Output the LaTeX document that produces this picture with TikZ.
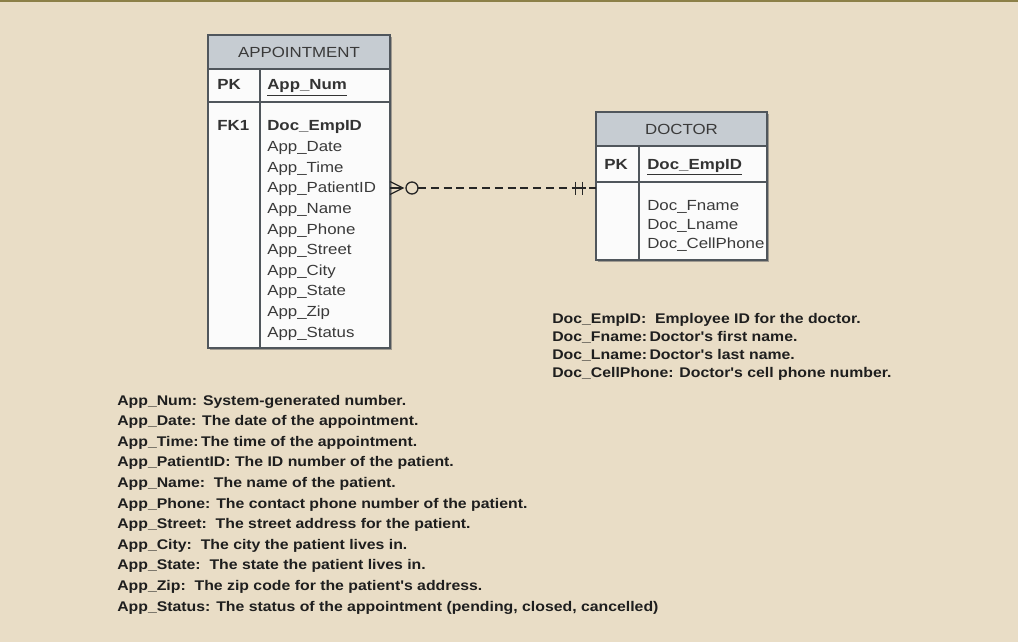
\documentclass[tikz,border=0pt]{standalone}
\usepackage{fontspec}
\setmainfont{Liberation Sans}
\newfontfamily\tabfont[FakeStretch=1.15]{Liberation Sans}
\newfontfamily\descfont[FakeStretch=1.13]{Liberation Sans}
\definecolor{bgc}{HTML}{E9DDC6}
\definecolor{topc}{HTML}{8C8048}
\definecolor{hdrc}{HTML}{C6CCD2}
\definecolor{bordc}{HTML}{50565C}
\definecolor{bodyc}{HTML}{FBFBFB}
\definecolor{tabtext}{HTML}{3A3A3A}
\definecolor{desctext}{HTML}{1E1E1E}
\definecolor{shadc}{HTML}{A09A90}
\tikzset{
  cellbox/.style={draw=bordc, line width=1pt, anchor=north west, inner sep=0pt, outer sep=0pt},
  hdrbox/.style={cellbox, fill=hdrc, font=\tabfont\fontsize{11}{13}\selectfont, text=tabtext},
  bodybox/.style={cellbox, fill=bodyc},
  fieldtxt/.style={anchor=base west, inner sep=0pt, font=\tabfont\fontsize{11}{13}\selectfont, text=tabtext},
  desctxt/.style={anchor=base west, inner sep=0pt, font=\descfont\bfseries\fontsize{10.5}{12}\selectfont, text=desctext},
  conn/.style={draw=black!85, line width=1pt}
}
\begin{document}
\begin{tikzpicture}[x=0.75pt,y=-0.75pt]
\fill[bgc] (0,0) rectangle (1018,642);
\useasboundingbox (0,0) rectangle (1018,642);
\fill[topc] (0,0) rectangle (1018,2);

% ---------- APPOINTMENT ----------
\fill[shadc] (210,37) rectangle (392,350);
\node[hdrbox, minimum width=136.5pt, minimum height=25.5pt] (apph) at (208,35) {APPOINTMENT};
\node[bodybox, minimum width=136.5pt, minimum height=24.75pt] (appk) at (208,69) {};
\node[bodybox, minimum width=136.5pt, minimum height=184.5pt] (appb) at (208,102) {};
\draw[bordc, line width=1pt] (260,69) coordinate (appd1) -- (260,348) coordinate (appd2);
\node[fieldtxt, font=\tabfont\bfseries\fontsize{11}{13}\selectfont, text=black!80] (apppk) at (217,90) {PK};
\node[fieldtxt, font=\tabfont\bfseries\fontsize{11}{13}\selectfont, text=black!80] (appnum) at (267,90) {\underline{App\_Num}};
\node[fieldtxt, font=\tabfont\bfseries\fontsize{11}{13}\selectfont, text=black!80] (appfk) at (217,131) {FK1};
\node[fieldtxt, font=\tabfont\bfseries\fontsize{11}{13}\selectfont, text=black!80] (af0) at (267,131) {Doc\_EmpID};
\foreach \t [count=\i] in {App\_Date,App\_Time,App\_PatientID,App\_Name,App\_Phone,App\_Street,App\_City,App\_State,App\_Zip,App\_Status}
  \node[fieldtxt] (af\i) at (267,131+20.6*\i) {\t};

% ---------- DOCTOR ----------
\fill[shadc] (598,114) rectangle (769,262);
\node[hdrbox, minimum width=128.25pt, minimum height=25.5pt] (doch) at (596,112) {DOCTOR};
\node[bodybox, minimum width=128.25pt, minimum height=27pt] (dock) at (596,146) {};
\node[bodybox, minimum width=128.25pt, minimum height=58.5pt] (docb) at (596,182) {};
\draw[bordc, line width=1pt] (639,146) coordinate (docd1) -- (639,260) coordinate (docd2);
\node[fieldtxt, font=\tabfont\bfseries\fontsize{11}{13}\selectfont, text=black!80] (docpk) at (604,169) {PK};
\node[fieldtxt, font=\tabfont\bfseries\fontsize{11}{13}\selectfont, text=black!80] (docid) at (647,169) {\underline{Doc\_EmpID}};
\node[fieldtxt] (df1) at (647,210) {Doc\_Fname};
\node[fieldtxt] (df2) at (647,229) {Doc\_Lname};
\node[fieldtxt] (df3) at (647,248) {Doc\_CellPhone};

% ---------- relationship ----------
\coordinate (cA) at (appb.east |- 0,188);
\coordinate (cD) at (docb.west |- 0,188);
\coordinate (cO) at (412,188);
\coordinate (cH) at (579,188);
\draw[conn] (cA) -- (403,188);
\draw[conn] (390,181.5) -- (403,188) -- (390,194.5);
\draw[conn] (cO) circle[radius=6];
\draw[conn, dash pattern=on 6pt off 3.6pt] (418,188) -- (572,188);
\draw[conn] (572,188) -- (586,188);
\draw[conn] (575.5,181.5) -- (575.5,194.5);
\draw[conn] (582.5,181.5) -- (582.5,194.5);
\draw[conn] (589,188) -- (cD);

% ---------- descriptions ----------
\node[desctxt] (dd1) at (552,323) {Doc\_EmpID:\ \ Employee ID for the doctor.};
\node[desctxt] (dd2) at (552,341) {Doc\_Fname:\,Doctor's first name.};
\node[desctxt] (dd3) at (552,359) {Doc\_Lname:\,Doctor's last name.};
\node[desctxt] (dd4) at (552,377) {Doc\_CellPhone: Doctor's cell phone number.};

\foreach \t [count=\i from 0] in {
  {App\_Num: System-generated number.},
  {App\_Date: The date of the appointment.},
  {App\_Time:\,The time of the appointment.},
  {App\_PatientID: The ID number of the patient.},
  {App\_Name:\ \ The name of the patient.},
  {App\_Phone: The contact phone number of the patient.},
  {App\_Street:\ \ The street address for the patient.},
  {App\_City:\ \ The city the patient lives in.},
  {App\_State:\ \ The state the patient lives in.},
  {App\_Zip:\ \ The zip code for the patient's address.},
  {App\_Status: The status of the appointment (pending, closed, cancelled)}}
  \node[desctxt] (ad\i) at (117,405+20.6*\i) {\t};
\end{tikzpicture}
\end{document}
